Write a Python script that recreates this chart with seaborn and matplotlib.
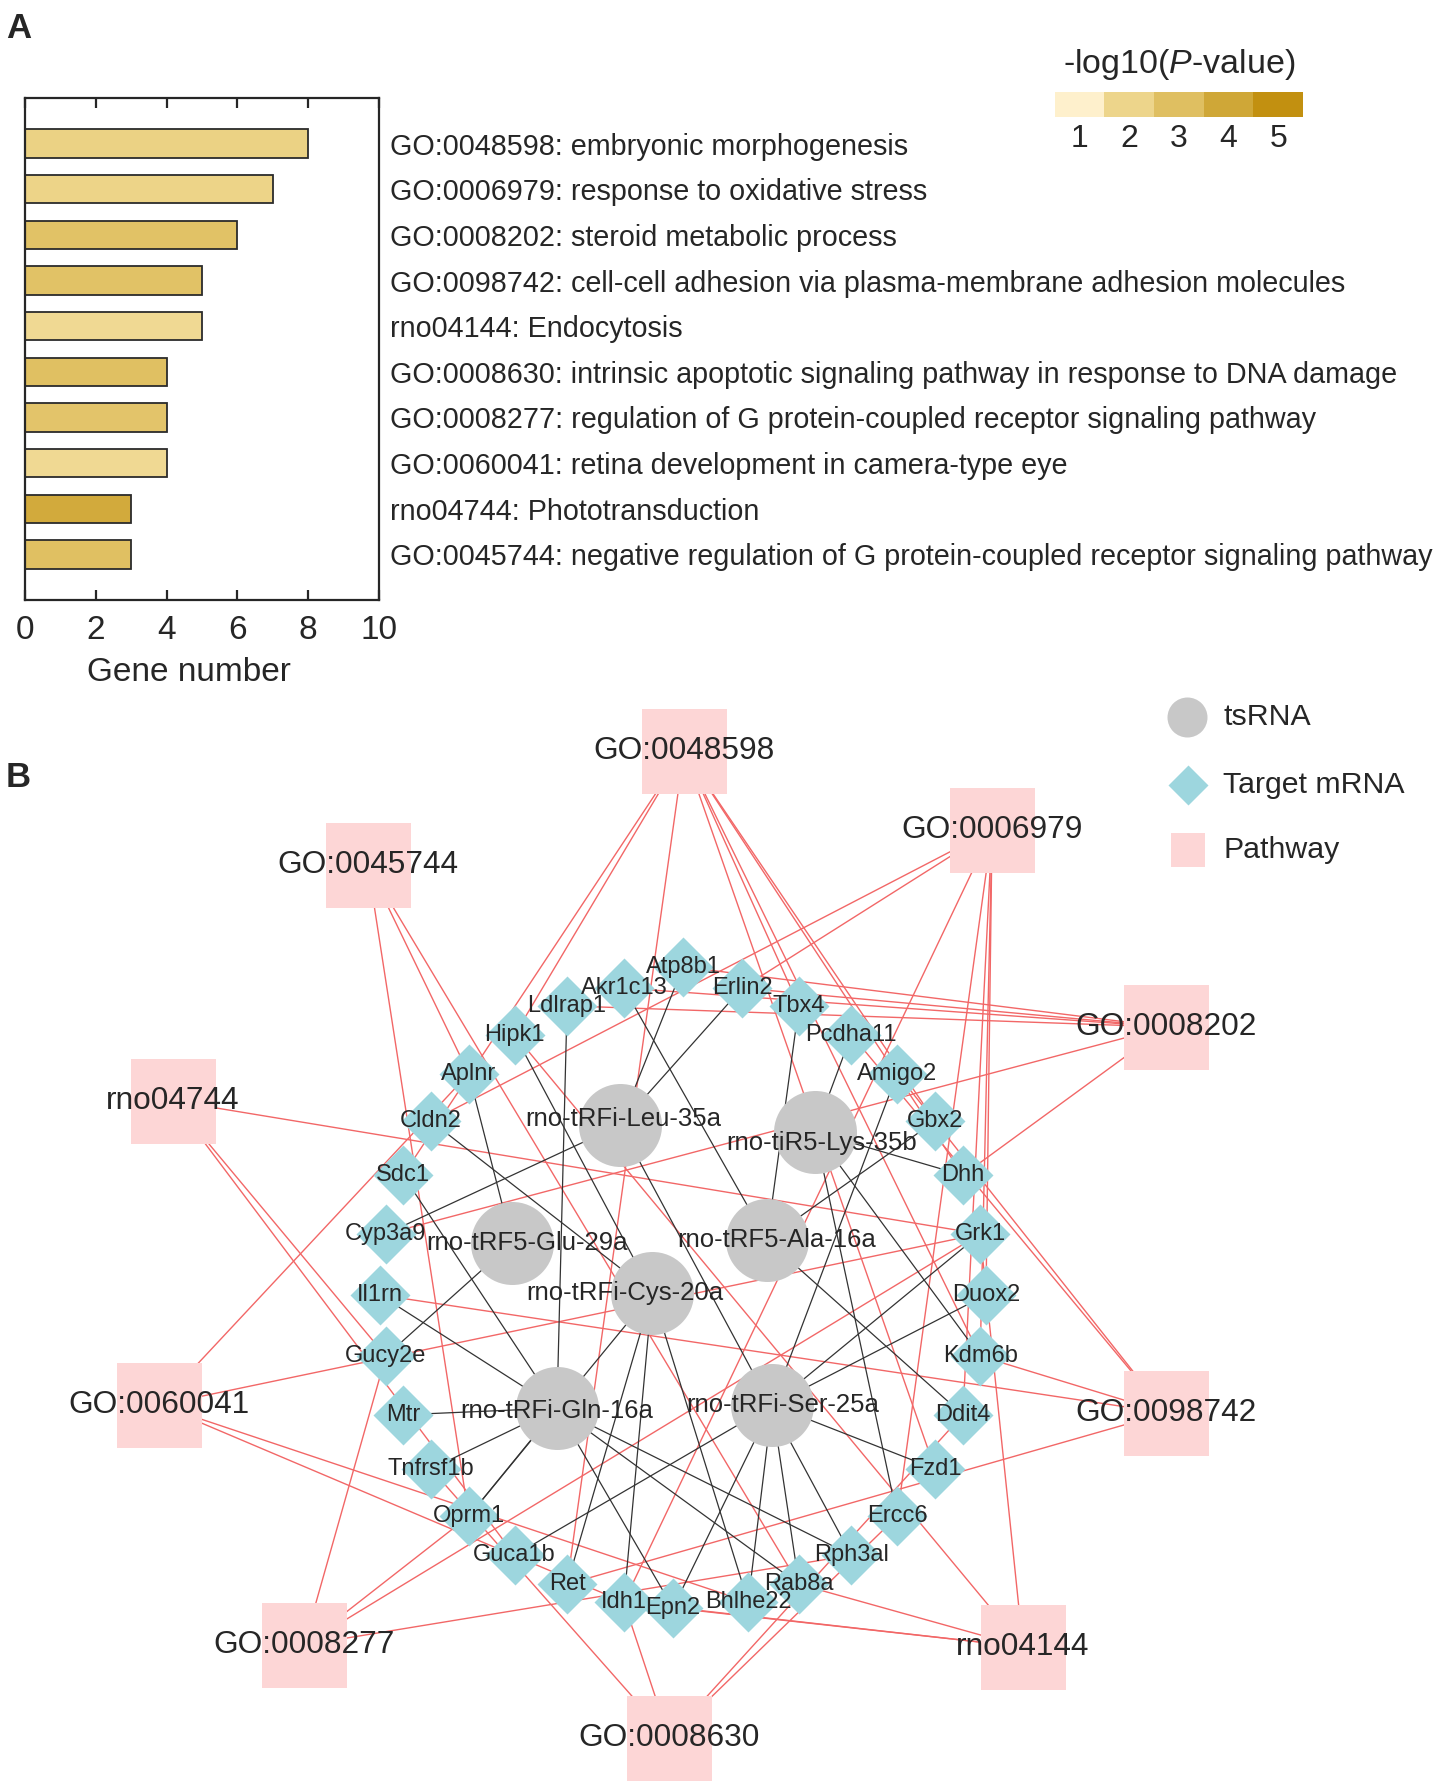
import matplotlib
matplotlib.use("Agg")
import matplotlib.pyplot as plt
import numpy as np
import pandas as pd
import seaborn as sns
from matplotlib.collections import LineCollection
from matplotlib.colors import LinearSegmentedColormap, Normalize
from matplotlib.path import Path

# ---------------- panel A data ----------------
terms = [
    "GO:0048598: embryonic morphogenesis",
    "GO:0006979: response to oxidative stress",
    "GO:0008202: steroid metabolic process",
    "GO:0098742: cell-cell adhesion via plasma-membrane adhesion molecules",
    "rno04144: Endocytosis",
    "GO:0008630: intrinsic apoptotic signaling pathway in response to DNA damage",
    "GO:0008277: regulation of G protein-coupled receptor signaling pathway",
    "GO:0060041: retina development in camera-type eye",
    "rno04744: Phototransduction",
    "GO:0045744: negative regulation of G protein-coupled receptor signaling pathway",
]
gene_numbers = [8, 7, 6, 5, 5, 4, 4, 4, 3, 3]
neg_log10_p = [2.2, 2.1, 2.9, 2.9, 1.9, 3.0, 2.8, 1.9, 3.9, 3.0]
p_levels = [1, 2, 3, 4, 5]
level_colors = ["#fef0cc", "#eed68c", "#e0c062", "#d0a838", "#c29010"]

# ---------------- panel B data ----------------
pathways = ["GO:0048598", "GO:0006979", "GO:0008202", "GO:0098742", "rno04144",
            "GO:0008630", "GO:0008277", "GO:0060041", "rno04744", "GO:0045744"]
ts_rnas = ["rno-tRFi-Leu-35a", "rno-tiR5-Lys-35b", "rno-tRF5-Glu-29a", "rno-tRF5-Ala-16a",
           "rno-tRFi-Cys-20a", "rno-tRFi-Gln-16a", "rno-tRFi-Ser-25a"]
# clockwise from the top of the ring
target_mrnas = ["Atp8b1", "Erlin2", "Tbx4", "Pcdha11", "Amigo2", "Gbx2", "Dhh", "Grk1",
                "Duox2", "Kdm6b", "Ddit4", "Fzd1", "Ercc6", "Rph3al", "Rab8a", "Bhlhe22",
                "Epn2", "Idh1", "Ret", "Guca1b", "Oprm1", "Tnfrsf1b", "Mtr", "Gucy2e",
                "Il1rn", "Cyp3a9", "Sdc1", "Cldn2", "Aplnr", "Hipk1", "Ldlrap1", "Akr1c13"]
ts_targets = {
    "rno-tRFi-Leu-35a": ["Atp8b1", "Erlin2", "Cyp3a9", "Rph3al"],
    "rno-tiR5-Lys-35b": ["Pcdha11", "Dhh", "Kdm6b", "Ercc6"],
    "rno-tRF5-Glu-29a": ["Aplnr", "Gucy2e"],
    "rno-tRF5-Ala-16a": ["Akr1c13", "Tbx4", "Gbx2", "Ddit4"],
    "rno-tRFi-Cys-20a": ["Hipk1", "Cldn2", "Ret", "Idh1", "Bhlhe22", "Oprm1"],
    "rno-tRFi-Gln-16a": ["Ldlrap1", "Sdc1", "Il1rn", "Mtr", "Tnfrsf1b", "Oprm1",
                         "Epn2", "Rab8a", "Rph3al"],
    "rno-tRFi-Ser-25a": ["Amigo2", "Grk1", "Duox2", "Fzd1", "Guca1b", "Rab8a",
                         "Bhlhe22", "Epn2"],
}
pathway_genes = {
    "GO:0048598": ["Hipk1", "Sdc1", "Ret", "Tbx4", "Gbx2", "Dhh", "Kdm6b", "Fzd1"],
    "GO:0006979": ["Erlin2", "Cldn2", "Duox2", "Kdm6b", "Ddit4", "Ercc6", "Idh1"],
    "GO:0008202": ["Atp8b1", "Akr1c13", "Ldlrap1", "Erlin2", "Cyp3a9", "Dhh"],
    "GO:0098742": ["Pcdha11", "Amigo2", "Kdm6b", "Il1rn", "Ret"],
    "rno04144": ["Rab8a", "Epn2", "Idh1", "Hipk1", "Grk1"],
    "GO:0008630": ["Tnfrsf1b", "Idh1", "Ercc6", "Ddit4"],
    "GO:0008277": ["Gucy2e", "Oprm1", "Grk1", "Rph3al"],
    "GO:0060041": ["Aplnr", "Grk1", "Bhlhe22", "Idh1"],
    "rno04744": ["Grk1", "Gucy2e", "Guca1b"],
    "GO:0045744": ["Oprm1", "Aplnr", "Rab8a"],
}
legend_labels = ["tsRNA", "Target mRNA", "Pathway"]

# ---------------- layout ----------------
W, H, DPI = 1440, 1791, 100
U, CX, CY = 303.0, 683.0, 1286.0  # px per layout unit, layout origin in figure px

# mRNA ring (layout units), with a few hand nudges as in the original drawing
RING_RX, RING_RY, RING_Y0 = 1.0, 313 / U, -9 / U
ring_nudge = {"Atp8b1": (0.0, 0.05), "Epn2": (-0.033, 0.0), "Bhlhe22": (0.02, 0.0)}
ts_layout = {
    "rno-tRFi-Leu-35a": (-0.208, 0.531), "rno-tiR5-Lys-35b": (0.436, 0.508),
    "rno-tRF5-Glu-29a": (-0.564, 0.142), "rno-tRF5-Ala-16a": (0.277, 0.152),
    "rno-tRFi-Cys-20a": (-0.102, -0.023), "rno-tRFi-Gln-16a": (-0.416, -0.403),
    "rno-tRFi-Ser-25a": (0.294, -0.393),
}
# tsRNA label offsets from their circles (layout units)
ts_label_shift = {
    "rno-tRFi-Leu-35a": (0.01, 0.02), "rno-tiR5-Lys-35b": (0.02, -0.035),
    "rno-tRF5-Glu-29a": (0.05, 0.0), "rno-tRF5-Ala-16a": (0.033, 0.0),
    "rno-tRFi-Cys-20a": (-0.09, 0.0), "rno-tRFi-Gln-16a": (0.0, -0.01),
    "rno-tRFi-Ser-25a": (0.036, 0.0),
}
pathway_layout = {
    "GO:0048598": (0.003, 1.766), "GO:0006979": (1.020, 1.505), "GO:0008202": (1.594, 0.855),
    "GO:0098742": (1.594, -0.419), "rno04144": (1.122, -1.191), "GO:0008630": (-0.046, -1.492),
    "GO:0008277": (-1.251, -1.185), "GO:0060041": (-1.729, -0.393), "rno04744": (-1.683, 0.611),
    "GO:0045744": (-1.040, 1.389),
}


def px2data(px, py):
    return (px - CX) / U, (CY - py) / U


sns.set_style("ticks")
plt.rcParams["font.family"] = ["Liberation Sans", "DejaVu Sans"]
plt.rcParams["mathtext.fontset"] = "custom"
plt.rcParams["mathtext.rm"] = "Liberation Sans"
plt.rcParams["mathtext.it"] = "Liberation Sans:italic"

fig = plt.figure(figsize=(W / DPI, H / DPI), dpi=DPI)

# ---------------- panel A ----------------
cmap = LinearSegmentedColormap.from_list("pval", level_colors)
norm = Normalize(vmin=1, vmax=5)
bar_colors = [cmap(norm(v)) for v in neg_log10_p]

ax_a = fig.add_axes([25 / W, 1 - 600 / H, 354 / W, 502 / H])
sns.barplot(x=gene_numbers, y=terms, hue=terms, palette=bar_colors, legend=False,
            orient="h", width=0.62, saturation=1, edgecolor="#2b2b2b", linewidth=1.3,
            ax=ax_a)
ax_a.set_xlim(0, 10)
ax_a.set_ylim(10, -1)
ax_a.set_xticks([0, 2, 4, 6, 8, 10])
ax_a.tick_params(axis="x", direction="in", top=True, length=7, width=1.6,
                 labelsize=24, pad=11)
ax_a.yaxis.tick_right()
ax_a.tick_params(axis="y", length=0, labelsize=20.7, pad=8)
ax_a.set_ylabel("")
ax_a.set_xlabel("Gene number", fontsize=24)
ax_a.xaxis.set_label_coords(0.463, -0.113)
for sp in ax_a.spines.values():
    sp.set_visible(True)
    sp.set_linewidth(1.6)

# colour key
ax_key = fig.add_axes([1055 / W, 1 - 117 / H, 248 / W, 25 / H])
ax_key.imshow(np.array([p_levels]), cmap=cmap, norm=norm, aspect="auto")
ax_key.set_yticks([])
ax_key.set_xticks(range(len(p_levels)))
ax_key.set_xticklabels([str(v) for v in p_levels])
ax_key.tick_params(axis="x", length=0, labelsize=23, pad=5)
for sp in ax_key.spines.values():
    sp.set_visible(False)
fig.text(1179 / W, 1 - 65 / H, r"-log10($\mathit{P}$-value)", fontsize=24.5,
         ha="center", va="center")

fig.text(6 / W, 1 - 38 / H, "A", fontsize=25, fontweight="bold", va="baseline")
fig.text(6 / W, 1 - 787 / H, "B", fontsize=25, fontweight="bold", va="baseline")

# ---------------- panel B ----------------
ax_b = fig.add_axes([0, 0, 1, (H - 690) / H])

pos = {}
angles = np.linspace(0, 2 * np.pi, len(target_mrnas), endpoint=False)
for name, a in zip(target_mrnas, angles):
    dx, dy = ring_nudge.get(name, (0.0, 0.0))
    pos[name] = (RING_RX * np.sin(a) + dx, RING_Y0 + RING_RY * np.cos(a) + dy)
pos.update(ts_layout)
pos.update(pathway_layout)

black_segs = [[pos[t], pos[g]] for t, genes in ts_targets.items() for g in genes]
red_segs = [[pos[p], pos[g]] for p, genes in pathway_genes.items() for g in genes]
ax_b.add_collection(LineCollection(red_segs, colors="#f26767", linewidths=1.0, zorder=1))
ax_b.add_collection(LineCollection(black_segs, colors="#333333", linewidths=0.9, zorder=1))

nodes = pd.DataFrame(
    [(n, "pathway") for n in pathways]
    + [(n, "mrna") for n in target_mrnas]
    + [(n, "ts") for n in ts_rnas],
    columns=["name", "kind"],
)
nodes["x"] = [pos[n][0] for n in nodes["name"]]
nodes["y"] = [pos[n][1] for n in nodes["name"]]

diamond = Path([(0, 1), (1, 0), (0, -1), (-1, 0), (0, 1)], closed=True)
px_pt = 72 / DPI
styles = {
    "pathway": dict(marker="s", size=85 * px_pt, color="#fdd6d6", fs=22.8),
    "mrna": dict(marker=diamond, size=60 * px_pt, color="#9dd6de", fs=17),
    "ts": dict(marker="o", size=83 * px_pt, color="#c8c8c8", fs=18.5),
}
for kind, st in styles.items():
    sub = nodes[nodes["kind"] == kind]
    sns.scatterplot(data=sub, x="x", y="y", marker=st["marker"], s=st["size"] ** 2,
                    color=st["color"], linewidth=0, zorder=2, legend=False, ax=ax_b)
    for _, r in sub.iterrows():
        sx, sy = ts_label_shift.get(r["name"], (0.0, 0.0))
        ax_b.text(r["x"] + sx, r["y"] + sy, r["name"], fontsize=st["fs"], ha="center",
                  va="center", zorder=5)

# node legend
legend_px = [(1187, 717), (1188, 785), (1188, 850)]
legend_sizes = [40, 40, 34]
for lab, kind, (lx, ly), sz in zip(legend_labels, ["ts", "mrna", "pathway"], legend_px,
                                   legend_sizes):
    x, y = px2data(lx, ly)
    ax_b.scatter([x], [y], marker=styles[kind]["marker"], s=(sz * px_pt) ** 2,
                 color=styles[kind]["color"], linewidth=0, zorder=2)
    tx, _ = px2data(1223, ly)
    ax_b.text(tx, y, lab, fontsize=21.8, ha="left", va="center")

ax_b.set_xlim(-CX / U, (W - CX) / U)
ax_b.set_ylim((CY - H) / U, (CY - 690) / U)
ax_b.axis("off")

fig.savefig("out.png", dpi=DPI)
